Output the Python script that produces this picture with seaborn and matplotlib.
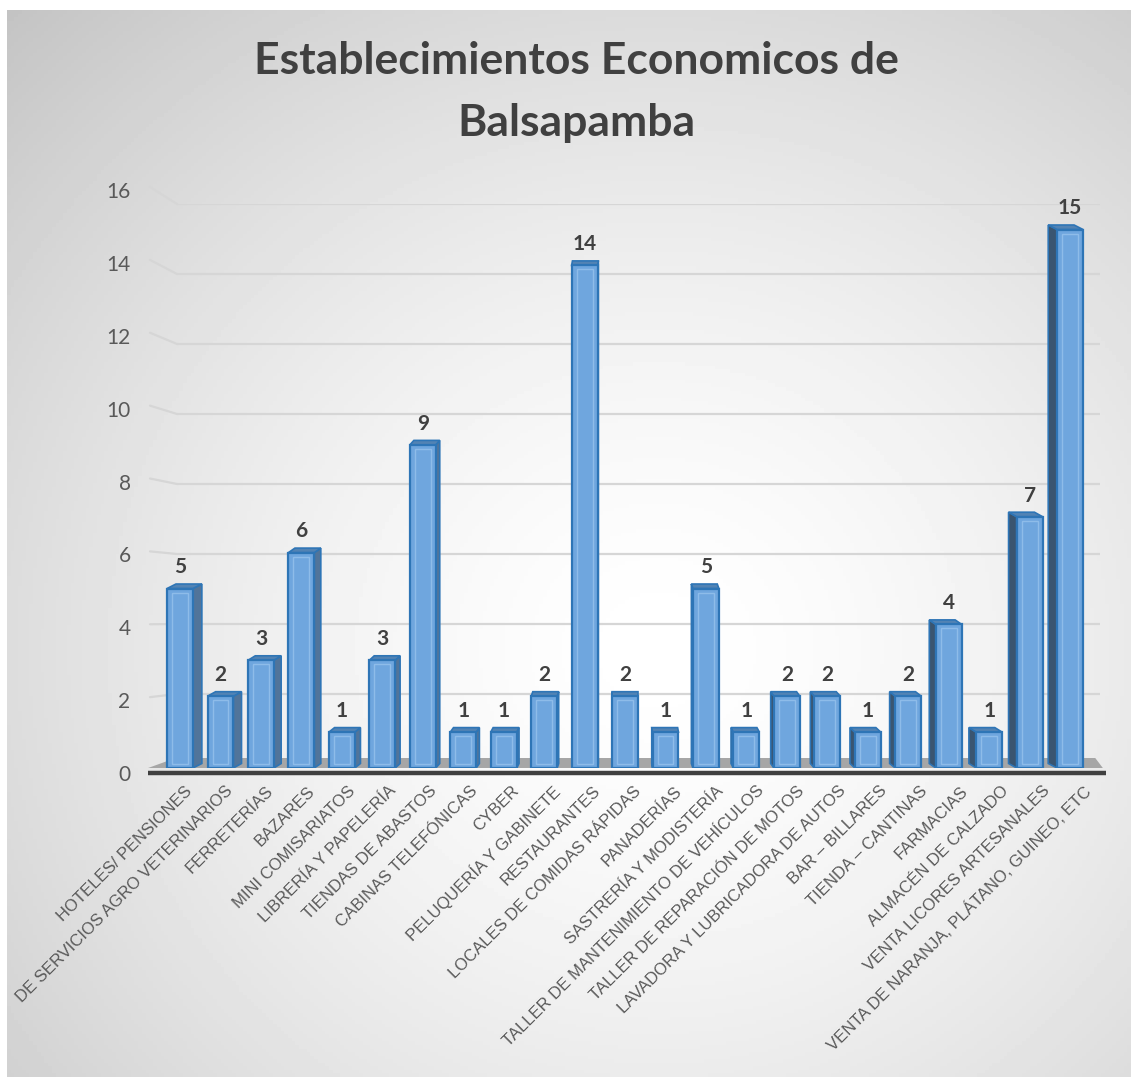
import numpy as np
import seaborn as sns
import matplotlib.pyplot as plt
from matplotlib.patches import Polygon, Rectangle
from matplotlib.lines import Line2D
from matplotlib.transforms import IdentityTransform, ScaledTranslation


categorias = [
    "HOTELES/ PENSIONES",
    "DE SERVICIOS AGRO VETERINARIOS",
    "FERRETERÍAS",
    "BAZARES",
    "MINI COMISARIATOS",
    "LIBRERÍA Y PAPELERÍA",
    "TIENDAS DE ABASTOS",
    "CABINAS TELEFÓNICAS",
    "CYBER",
    "PELUQUERÍA Y GABINETE",
    "RESTAURANTES",
    "LOCALES DE COMIDAS RÁPIDAS",
    "PANADERÍAS",
    "SASTRERÍA Y MODISTERÍA",
    "TALLER DE MANTENIMIENTO DE VEHÍCULOS",
    "TALLER DE REPARACIÓN DE MOTOS",
    "LAVADORA Y LUBRICADORA DE AUTOS",
    "BAR – BILLARES",
    "TIENDA – CANTINAS",
    "FARMACIAS",
    "ALMACÉN DE CALZADO",
    "VENTA LICORES ARTESANALES",
    "VENTA DE NARANJA, PLÁTANO, GUINEO, ETC",
]
cantidades = [5, 2, 3, 6, 1, 3, 9, 1, 1, 2, 14, 2, 1, 5, 1, 2, 2, 1, 2, 4, 1, 7, 15]
marcas_y = [0, 2, 4, 6, 8, 10, 12, 14, 16]
titulo = "Establecimientos Economicos de\nBalsapamba"

W, H = 1131, 1077
sns.set_theme(style="white")
plt.rcParams['font.family'] = ['Lato', 'DejaVu Sans']

fig = plt.figure(figsize=(W / 100, H / 100), dpi=100, facecolor='white')

# fondo con degradado radial (blanco al centro, gris en los bordes)
bg = fig.add_axes([7 / W, 0, 1 - 7 / W, 1 - 10 / H], zorder=-10)
yy, xx = np.mgrid[0:1:300j, 0:1:300j]
r = np.hypot(xx - 0.58, yy - 0.6) / 0.85
gris = 1 - 0.24 * r ** 1.5
bg.imshow(gris, cmap='gray', vmin=0, vmax=1, aspect='auto', extent=(0, 1, 1, 0))
bg.set_axis_off()

# ejes para las etiquetas del eje Y (plano delantero izquierdo)
ax_lab = fig.add_axes([150 / W, (H - 773) / H, 950 / W, 583 / H])
# ejes para la cuadricula del fondo
ax_back = fig.add_axes([177 / W, (H - 764) / H, 923 / W, 560 / H])
# ejes de las barras
ax = fig.add_axes([150 / W, (H - 768) / H, 950 / W, 574.4 / H])

for a in (ax_lab, ax_back, ax):
    a.patch.set_visible(False)
    for s in a.spines.values():
        s.set_visible(False)

ax_lab.set_xlim(0, 1)
ax_lab.set_ylim(0, 16)
ax_lab.set_xticks([])
ax_lab.set_yticks(marcas_y)
ax_lab.set_yticklabels([str(v) for v in marcas_y], fontsize=15, color='#595959')
ax_lab.tick_params(axis='y', length=0, pad=14)

ax_back.set_xlim(0, 1)
ax_back.set_ylim(0, 16)
ax_back.set_xticks([])
ax_back.set_yticks([])
for v in marcas_y[1:]:
    ax_back.axhline(v, color='#d6d6d6', lw=1.6)
    p0 = ax_lab.transData.transform((0, v)) + np.array([0, 3])
    p1 = ax_back.transData.transform((0, v))
    fig.add_artist(Line2D([p0[0], p1[0]], [p0[1], p1[1]], color='#d6d6d6', lw=1.6,
                          transform=IdentityTransform(), zorder=-5))

# barras
sns.barplot(x=categorias, y=cantidades, ax=ax, color='#6fa6de', saturation=1,
            width=0.64, edgecolor='#2e75b6', linewidth=1.6, errorbar=None)
ax.set_xlim(-0.742, 22.74)
ax.set_ylim(0, 16)
ax.set_yticks([])
ax.set_ylabel('')

# efecto 3D: caras laterales y superiores
x_px = ax.transData.transform((1, 0))[0] - ax.transData.transform((0, 0))[0]
y_px = ax.transData.transform((0, 1))[1] - ax.transData.transform((0, 0))[1]
vp = ax.transAxes.transform((0.5, 0))[0]
for p in ax.patches[:len(cantidades)]:
    x0, w, h = p.get_x(), p.get_width(), p.get_height()
    x1 = x0 + w
    xc_pix = ax.transData.transform((x0 + w / 2, 0))[0]
    dx = 0.02 * (vp - xc_pix) / x_px
    dy = 4.5 / y_px
    if dx >= 0:
        lado = [(x1, 0), (x1, h), (x1 + dx, h + dy), (x1 + dx, dy)]
        c_lado = '#51749a'
    else:
        lado = [(x0, 0), (x0, h), (x0 + dx, h + dy), (x0 + dx, dy)]
        c_lado = '#3a5570'
    ax.add_patch(Polygon(lado, closed=True, facecolor=c_lado, edgecolor='#2e75b6',
                         lw=1.2, zorder=0.8))
    tapa = [(x0, h), (x1, h), (x1 + dx, h + dy), (x0 + dx, h + dy)]
    ax.add_patch(Polygon(tapa, closed=True, facecolor='#5283b4', edgecolor='#2e75b6',
                         lw=1.2, zorder=0.8))
    ix, iy = 5 / x_px, 4 / y_px
    ax.add_patch(Rectangle((x0 + ix, iy), w - 2 * ix, h - 2 * iy, fill=False,
                           edgecolor='#9cc6ef', lw=1.0, alpha=0.7, zorder=1.1))
    p.set_zorder(1)

# piso gris y linea del eje
piso = [(-0.002, 0), (1.003, 0), (0.995, 10 / 574.4), (0.027, 10 / 574.4)]
ax.add_patch(Polygon(piso, closed=True, transform=ax.transAxes, facecolor='#a6a6a6',
                     edgecolor='none', zorder=0.5, clip_on=False))
ax.plot([-0.002, 1.006], [-5 / 574.4, -5 / 574.4], transform=ax.transAxes,
        color='#404040', lw=3.2, solid_capstyle='butt', clip_on=False, zorder=0.6)

# etiquetas de datos
ax.bar_label(ax.containers[0], padding=8, fontsize=15, fontweight='bold', color='#404040')

# etiquetas del eje X (se abren un poco hacia la derecha, como en la perspectiva)
ax.set_xticks(range(len(categorias)))
ax.set_xticklabels(categorias, rotation=45, ha='right', va='top', rotation_mode='anchor',
                   fontsize=12, color='#595959', family=['Liberation Sans', 'DejaVu Sans'])
ax.tick_params(axis='x', length=0, pad=11)
n = len(categorias)
for i, lbl in enumerate(ax.get_xticklabels()):
    desp = (4 + 9 * i / (n - 1)) / 100
    lbl.set_transform(lbl.get_transform() + ScaledTranslation(desp, 0, fig.dpi_scale_trans))

# titulo
fig.text(0.5097, 1 - 92 / H, titulo, ha='center', va='center', fontsize=32,
         fontweight='bold', color='#404040', linespacing=1.65)

plt.savefig('out.png', dpi=100)
plt.close()
